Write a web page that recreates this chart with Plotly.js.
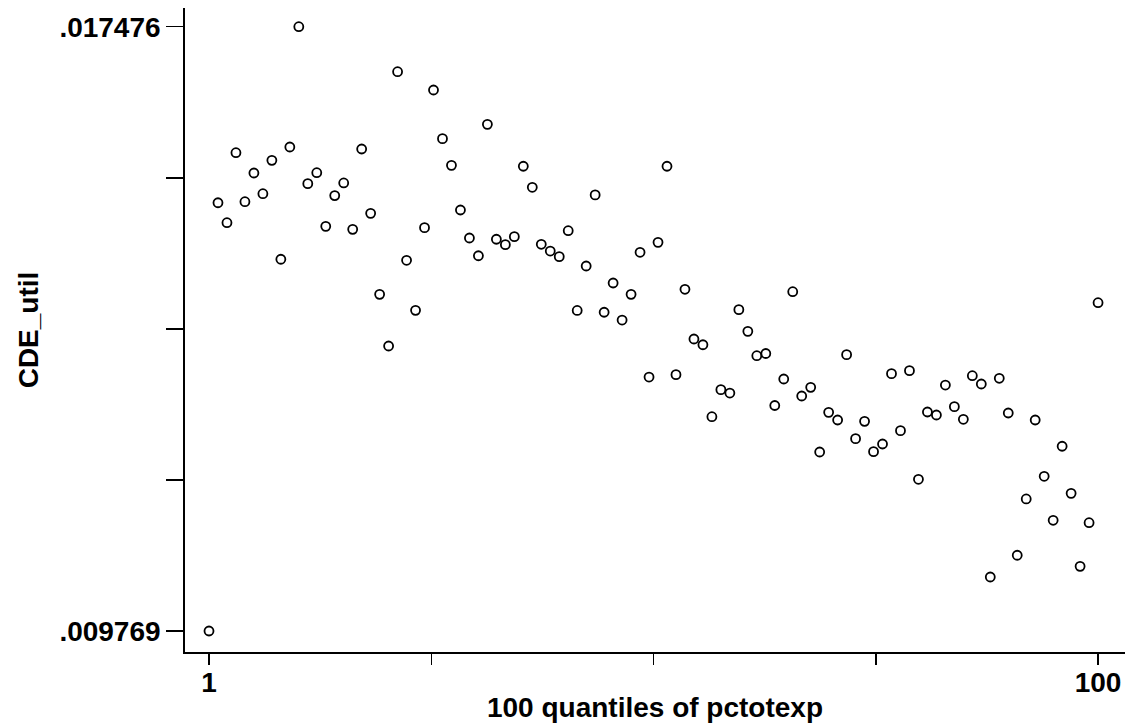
<!DOCTYPE html>
<html>
<head>
<meta charset="utf-8">
<script src="https://cdn.plot.ly/plotly-3.0.1.min.js"></script>
<style>html,body{margin:0;padding:0;background:#fff;}#chart{width:1137px;height:724px;}</style>
</head>
<body>
<div id="chart"></div>
<script>
const quantiles = [1,2,3,4,5,6,7,8,9,10,11,12,13,14,15,16,17,18,19,20,
  21,22,23,24,25,26,27,28,29,30,31,32,33,34,35,36,37,38,39,40,
  41,42,43,44,45,46,47,48,49,50,51,52,53,54,55,56,57,58,59,60,
  61,62,63,64,65,66,67,68,69,70,71,72,73,74,75,76,77,78,79,80,
  81,82,83,84,85,86,87,88,89,90,91,92,93,94,95,96,97,98,99,100];

const cdeUtil = [
  0.009769, 0.015231, 0.014976, 0.015869, 0.015244, 0.015610, 0.015346, 0.015772, 0.014510, 0.015942,
  0.017476, 0.015474, 0.015614, 0.014930, 0.015322, 0.015483, 0.014892, 0.015916, 0.015096, 0.014063,
  0.013404, 0.016902, 0.014497, 0.013859, 0.014913, 0.016669, 0.016048, 0.015708, 0.015138, 0.014781,
  0.014555, 0.016231, 0.014765, 0.014696, 0.014798, 0.015696, 0.015428, 0.014701, 0.014615, 0.014543,
  0.014874, 0.013857, 0.014424, 0.015331, 0.013834, 0.014207, 0.013735, 0.014063, 0.014599, 0.013008,
  0.014726, 0.015696, 0.013038, 0.014127, 0.013493, 0.013420, 0.012502, 0.012847, 0.012804, 0.013867,
  0.013591, 0.013280, 0.013308, 0.012645, 0.012983, 0.014096, 0.012766, 0.012877, 0.012052, 0.012558,
  0.012460, 0.013293, 0.012222, 0.012443, 0.012056, 0.012154, 0.013051, 0.012324, 0.013089, 0.011704,
  0.012562, 0.012524, 0.012906, 0.012630, 0.012469, 0.013025, 0.012919, 0.010458, 0.012992, 0.012549,
  0.010735, 0.011453, 0.012460, 0.011742, 0.011181, 0.012125, 0.011525, 0.010594, 0.011150, 0.013956
];

const xTickVals = [1, 25.75, 50.5, 75.25, 100];
const xTickText = ['<b>1</b>', '', '', '', '<b>100</b>'];
const yTickVals = [0.009769, 0.01169575, 0.0136225, 0.01554925, 0.017476];
const yTickText = ['<b>.009769</b>', '', '', '', '<b>.017476</b>'];

const fontFamily = 'Liberation Sans, Arial, sans-serif';

const trace = {
  x: quantiles,
  y: cdeUtil,
  type: 'scatter',
  mode: 'markers',
  marker: {symbol: 'circle-open', size: 9, color: '#000', line: {width: 1.8, color: '#000'}},
  hoverinfo: 'x+y'
};

const layout = {
  width: 1137,
  height: 724,
  margin: {l: 185, r: 12, t: 8, b: 72},
  paper_bgcolor: '#fff',
  plot_bgcolor: '#fff',
  showlegend: false,
  font: {family: fontFamily, size: 28, color: '#000'},
  xaxis: {
    range: [-1.673, 103.0],
    tickmode: 'array',
    tickvals: xTickVals,
    ticktext: xTickText,
    ticks: 'outside',
    ticklen: 11,
    tickwidth: 1.5,
    tickcolor: '#000',
    ticklabelstandoff: -6,
    showline: true,
    linecolor: '#000',
    linewidth: 1.8,
    showgrid: false,
    zeroline: false,
    automargin: false,
    tickfont: {family: fontFamily, size: 28, color: '#000'},
    title: {text: '<b>100 quantiles of pctotexp</b>', font: {family: fontFamily, size: 28, color: '#000'}, standoff: 0}
  },
  yaxis: {
    range: [0.0095012, 0.0177145],
    tickmode: 'array',
    tickvals: yTickVals,
    ticktext: yTickText,
    ticks: 'outside',
    ticklen: 17,
    tickwidth: 1.5,
    tickcolor: '#000',
    showline: true,
    linecolor: '#000',
    linewidth: 1.8,
    showgrid: false,
    zeroline: false,
    automargin: false,
    tickfont: {family: fontFamily, size: 28, color: '#000'},
    title: {text: '<b>CDE_util</b>', font: {family: fontFamily, size: 28, color: '#000'}, standoff: 12}
  }
};

Plotly.newPlot('chart', [trace], layout, {displayModeBar: false, staticPlot: true});
</script>
</body>
</html>
